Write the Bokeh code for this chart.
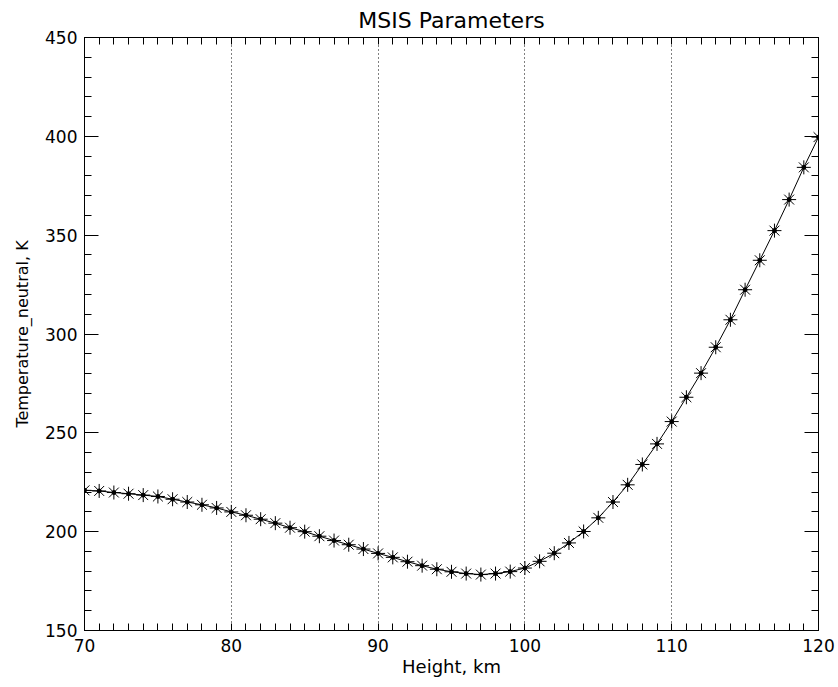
from bokeh.plotting import figure
from bokeh.models import Range1d, LinearAxis, SingleIntervalTicker, CustomJSTickFormatter
from bokeh.embed import file_html
from bokeh.resources import INLINE

height_km = [70, 71, 72, 73, 74, 75, 76, 77, 78, 79,
             80, 81, 82, 83, 84, 85, 86, 87, 88, 89,
             90, 91, 92, 93, 94, 95, 96, 97, 98, 99,
             100, 101, 102, 103, 104, 105, 106, 107, 108, 109,
             110, 111, 112, 113, 114, 115, 116, 117, 118, 119, 120]
temperature_k = [220.9, 220.6, 219.8, 219.2, 218.5, 217.8, 216.4, 215.0, 213.6, 212.0,
                 210.0, 208.3, 206.3, 204.3, 202.0, 200.0, 197.7, 195.5, 193.4, 191.2,
                 189.0, 187.0, 184.8, 182.8, 181.0, 179.7, 178.8, 178.3, 178.8, 179.8,
                 181.6, 185.0, 189.1, 194.3, 200.1, 207.0, 215.0, 223.7, 234.0, 244.4,
                 255.7, 268.0, 280.2, 293.3, 307.2, 322.4, 337.3, 352.3, 368.0, 384.3, 399.6]

FONT = "DejaVu Sans"

p = figure(width=838, height=687, output_backend="svg", toolbar_location=None,
           x_range=Range1d(70, 120), y_range=Range1d(150, 450),
           x_axis_location=None, y_axis_location=None,
           min_border_left=84, min_border_right=20, min_border_top=37, min_border_bottom=57,
           title="MSIS Parameters")
p.title.align = "center"
p.title.text_font = FONT
p.title.text_font_size = "22px"
p.title.text_font_style = "normal"
p.title.text_color = "black"
p.title.standoff = 10

p.outline_line_color = "black"
p.outline_line_width = 1
p.background_fill_color = "white"
p.border_fill_color = "white"

xt = SingleIntervalTicker(interval=10, num_minor_ticks=10)
yt = SingleIntervalTicker(interval=50, num_minor_ticks=5)

def style_axis(ax, labels, maj_in):
    ax.axis_line_color = "black"
    ax.major_tick_line_color = "black"
    ax.minor_tick_line_color = "black"
    ax.major_tick_in = maj_in
    ax.major_tick_out = 0
    ax.minor_tick_in = 7
    ax.minor_tick_out = 0
    if labels:
        ax.major_label_text_font = FONT
        ax.major_label_text_font_size = "17px"
        ax.major_label_text_color = "black"
        ax.axis_label_text_font = FONT
        ax.axis_label_text_font_style = "normal"
        ax.axis_label_text_color = "black"
    else:
        ax.formatter = CustomJSTickFormatter(code="return ''")
        ax.major_label_standoff = 0

xb = LinearAxis(ticker=xt, axis_label="Height, km")
style_axis(xb, True, 0)
xb.axis_label_text_font_size = "18px"
xb.major_label_standoff = 8
xb.axis_label_standoff = 1
p.add_layout(xb, "below")

xa = LinearAxis(ticker=xt)
style_axis(xa, False, 0)
p.add_layout(xa, "above")

yl = LinearAxis(ticker=yt, axis_label="Temperature_neutral, K")
style_axis(yl, True, 14)
yl.axis_label_text_font_size = "16px"
yl.major_label_standoff = 7
yl.axis_label_standoff = 10
p.add_layout(yl, "left")

yr = LinearAxis(ticker=yt)
style_axis(yr, False, 14)
p.add_layout(yr, "right")

p.xgrid.ticker = xt
p.xgrid.grid_line_color = "black"
p.xgrid.grid_line_dash = "1 3"
p.xgrid.grid_line_width = 1
p.ygrid.grid_line_color = None

p.line(height_km, temperature_k, line_color="black", line_width=1)
p.scatter(height_km, temperature_k, marker="asterisk", size=14,
          line_color="black", line_width=1)
p.scatter(height_km, temperature_k, marker="circle", size=4,
          line_color="black", fill_color="black")

open("out.html", "w").write(file_html(p, INLINE))
